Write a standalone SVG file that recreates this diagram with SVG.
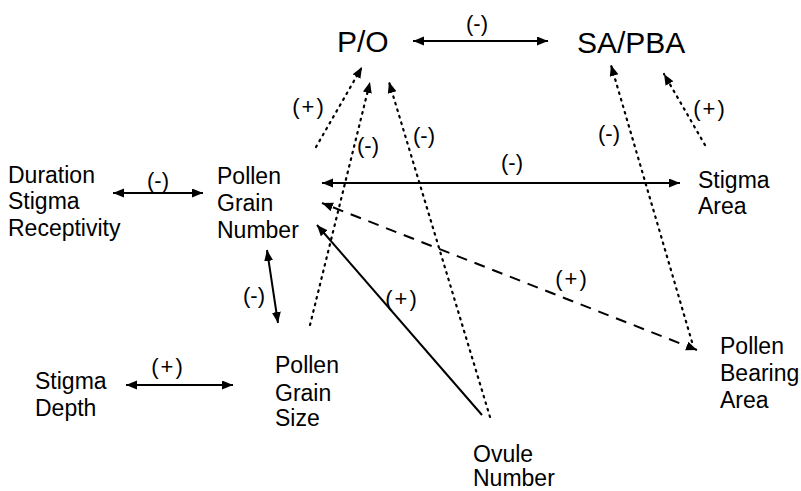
<svg xmlns="http://www.w3.org/2000/svg" width="801" height="491" viewBox="0 0 801 491">
<style>
.n{font-family:"Liberation Sans",Arial,sans-serif;font-size:23px;fill:#000}
.t{font-family:"Liberation Sans",Arial,sans-serif;font-size:30px;fill:#000}
.l{font-family:"Liberation Sans",Arial,sans-serif;font-size:22px;fill:#000;text-anchor:middle}
.lp{font-family:"Liberation Sans",Arial,sans-serif;font-size:22px;fill:#000;text-anchor:middle;letter-spacing:2px}
.s{stroke:#000;stroke-width:2;fill:none}
.d{stroke:#000;stroke-width:2.2;fill:none;stroke-dasharray:1.6 5.2;stroke-linecap:round}
.ds{stroke:#000;stroke-width:2;fill:none;stroke-dasharray:11 8}
</style>
<defs>
<marker id="ah" markerUnits="userSpaceOnUse" markerWidth="12" markerHeight="10" refX="11" refY="4.5" orient="auto-start-reverse">
<path d="M0,0 L11,4.5 L0,9 z" fill="#000"/>
</marker>
</defs>
<g id="node-po"><text class="t" x="337" y="52">P/O</text></g>
<g id="node-sapba"><text class="t" x="577" y="53">SA/PBA</text></g>
<g id="node-duration"><text class="n" x="8" y="183">Duration</text><text class="n" x="8" y="209">Stigma</text><text class="n" x="8" y="236">Receptivity</text></g>
<g id="node-pgn"><text class="n" x="217" y="184">Pollen</text><text class="n" x="217" y="211">Grain</text><text class="n" x="217" y="238">Number</text></g>
<g id="node-stigmaarea"><text class="n" x="698" y="188">Stigma</text><text class="n" x="698" y="214">Area</text></g>
<g id="node-stigmadepth"><text class="n" x="35" y="389">Stigma</text><text class="n" x="35" y="416">Depth</text></g>
<g id="node-pgs"><text class="n" x="275" y="373">Pollen</text><text class="n" x="275" y="401">Grain</text><text class="n" x="275" y="426">Size</text></g>
<g id="node-pba"><text class="n" x="720" y="354">Pollen</text><text class="n" x="720" y="381">Bearing</text><text class="n" x="720" y="408">Area</text></g>
<g id="node-ovule"><text class="n" x="473" y="462">Ovule</text><text class="n" x="473" y="486">Number</text></g>
<g id="connectors">
<line class="s" x1="413" y1="41" x2="548" y2="41" marker-start="url(#ah)" marker-end="url(#ah)"/>
<line class="d" x1="316" y1="147" x2="362" y2="67" marker-end="url(#ah)"/>
<line class="d" x1="310" y1="325" x2="370" y2="82" marker-end="url(#ah)"/>
<line class="d" x1="490" y1="417" x2="389" y2="82" marker-end="url(#ah)"/>
<line class="d" x1="692" y1="342" x2="611" y2="65" marker-end="url(#ah)"/>
<line class="d" x1="705" y1="145" x2="664" y2="74" marker-end="url(#ah)"/>
<line class="s" x1="322" y1="183" x2="680" y2="183" marker-start="url(#ah)" marker-end="url(#ah)"/>
<line class="s" x1="113" y1="193" x2="203" y2="193" marker-start="url(#ah)" marker-end="url(#ah)"/>
<line class="s" x1="267" y1="250" x2="278" y2="323" marker-start="url(#ah)" marker-end="url(#ah)"/>
<line class="ds" x1="697" y1="350" x2="322" y2="203" marker-start="url(#ah)" marker-end="url(#ah)"/>
<line class="s" x1="482" y1="415" x2="317" y2="225" marker-end="url(#ah)"/>
<line class="s" x1="126" y1="385" x2="233" y2="385" marker-start="url(#ah)" marker-end="url(#ah)"/>
<text class="l" x="477" y="31">(-)</text>
<text class="lp" x="309" y="114">(+)</text>
<text class="l" x="368" y="153">(-)</text>
<text class="l" x="424" y="143">(-)</text>
<text class="l" x="609" y="141">(-)</text>
<text class="lp" x="710" y="116">(+)</text>
<text class="l" x="512" y="170">(-)</text>
<text class="l" x="158" y="188">(-)</text>
<text class="l" x="254" y="303">(-)</text>
<text class="lp" x="402" y="306">(+)</text>
<text class="lp" x="572" y="286">(+)</text>
<text class="lp" x="168" y="374">(+)</text>
</g>
</svg>
